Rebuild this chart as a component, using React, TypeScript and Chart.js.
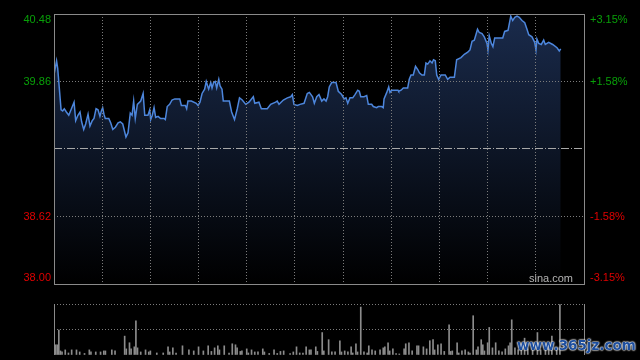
import React, { useEffect, useRef } from 'react';
import { Chart, registerables } from 'chart.js';

Chart.register(...registerables);

// ---- data (minutes from market open, HK session = 330 minutes) ----
const sessionMinutes = 330;
const gridStep = 30;
const prevClose = 39.24;

const minutes = [
  0, 1.6, 2.3, 4.4, 5.4, 6.4, 7.7, 9.2, 10.6, 12.5,
  13.5, 14.9, 16.2, 17.2, 18.5, 19.7, 21.2, 22.4, 23.8, 24.9,
  26.2, 27.4, 28.6, 29.5, 30.3, 31.1, 31.9, 34.1, 35.3, 36.6,
  38.2, 39.9, 41.3, 42.8, 44.8, 46.1, 47.5, 48.6, 49.6, 50.6,
  51.9, 54.0, 55.5, 56.5, 58.5, 59.6, 60.2, 61.2, 62.3, 63.3,
  64.8, 66.4, 68.5, 69.3, 70.5, 72.0, 73.5, 75.2, 78.3, 79.3,
  81.8, 82.6, 83.4, 85.5, 88.6, 89.7, 90.9, 92.2, 93.8, 94.8,
  96.3, 97.6, 98.4, 99.4, 100.4, 101.3, 102.6, 103.4, 104.6, 105.4,
  109.2, 110.6, 112.4, 114.1, 115.5, 117.2, 119.4, 121.4, 124.1, 125.0,
  127.6, 129.1, 132.8, 134.9, 138.0, 139.0, 140.1, 142.8, 145.3, 147.4,
  148.4, 149.4, 151.5, 153.2, 155.7, 157.7, 159.0, 161.0, 162.1, 163.6,
  165.0, 166.7, 168.1, 169.4, 170.4, 171.4, 172.9, 175.6, 177.0, 179.1,
  180.6, 181.8, 182.9, 184.3, 186.0, 187.4, 189.1, 190.1, 191.0, 193.0,
  194.7, 195.7, 197.8, 198.8, 200.9, 201.9, 204.0, 205.0, 205.5, 207.2,
  208.4, 209.2, 210.3, 214.2, 214.6, 216.1, 217.5, 220.2, 221.2, 222.3,
  223.7, 225.1, 226.5, 227.5, 229.1, 230.6, 231.6, 232.7, 234.1, 235.4,
  236.3, 237.4, 238.3, 239.5, 241.0, 243.6, 245.1, 246.6, 249.3, 250.7,
  253.4, 255.5, 257.6, 259.0, 260.3, 261.7, 263.7, 264.8, 266.5, 267.9,
  269.6, 270.2, 271.0, 272.3, 273.3, 274.4, 279.4, 280.6, 282.7, 284.4,
  285.6, 286.9, 288.3, 289.7, 291.4, 293.1, 294.5, 295.6, 297.6, 299.3,
  300.1, 300.7, 301.8, 303.4, 304.9, 305.9, 308.0, 310.5, 313.2, 314.6,
  315.5,
];

const prices = [
  39.92, 40.05, 39.98, 39.60, 39.59, 39.61, 39.58, 39.55, 39.60, 39.67,
  39.50, 39.55, 39.58, 39.49, 39.42, 39.47, 39.56, 39.45, 39.50, 39.52,
  39.61, 39.60, 39.54, 39.59, 39.62, 39.56, 39.52, 39.52, 39.48, 39.42,
  39.44, 39.48, 39.49, 39.47, 39.35, 39.39, 39.57, 39.55, 39.68, 39.52,
  39.65, 39.68, 39.75, 39.55, 39.55, 39.60, 39.51, 39.55, 39.62, 39.53,
  39.54, 39.52, 39.52, 39.51, 39.63, 39.65, 39.69, 39.70, 39.70, 39.64,
  39.64, 39.61, 39.68, 39.68, 39.66, 39.64, 39.67, 39.75, 39.79, 39.86,
  39.79, 39.85, 39.80, 39.85, 39.86, 39.80, 39.88, 39.82, 39.79, 39.68,
  39.68, 39.58, 39.51, 39.61, 39.71, 39.69, 39.65, 39.67, 39.72, 39.66,
  39.67, 39.61, 39.61, 39.65, 39.67, 39.68, 39.65, 39.69, 39.71, 39.72,
  39.74, 39.65, 39.64, 39.65, 39.66, 39.75, 39.76, 39.72, 39.66, 39.72,
  39.74, 39.68, 39.70, 39.68, 39.72, 39.81, 39.85, 39.85, 39.77, 39.74,
  39.70, 39.71, 39.66, 39.71, 39.71, 39.74, 39.78, 39.77, 39.72, 39.72,
  39.73, 39.65, 39.65, 39.63, 39.62, 39.63, 39.63, 39.62, 39.70, 39.76,
  39.81, 39.76, 39.78, 39.78, 39.77, 39.78, 39.80, 39.80, 39.88, 39.92,
  39.92, 40.00, 39.97, 39.94, 39.92, 39.92, 40.03, 40.02, 40.05, 40.03,
  40.06, 40.05, 39.92, 39.88, 39.92, 39.92, 39.88, 39.90, 39.90, 40.06,
  40.08, 40.11, 40.13, 40.15, 40.23, 40.24, 40.34, 40.31, 40.30, 40.27,
  40.21, 40.15, 40.28, 40.21, 40.18, 40.26, 40.26, 40.32, 40.33, 40.46,
  40.42, 40.45, 40.46, 40.45, 40.42, 40.40, 40.34, 40.29, 40.27, 40.22,
  40.15, 40.25, 40.21, 40.20, 40.24, 40.20, 40.22, 40.20, 40.17, 40.14,
  40.16,
];

// relative volume (100 = top of volume panel)
const volMinutes = [
  1, 2, 3, 4, 5, 7, 9, 11, 14, 16, 19, 22, 23, 26, 29, 31, 32, 36, 38, 44,
  45, 47, 48, 50, 51, 52, 54, 57, 59, 60, 64, 68, 71, 72, 74, 76, 80, 84, 87, 90,
  93, 96, 98, 100, 102, 103, 106, 109, 111, 113, 114, 116, 117, 120, 121, 123, 125, 127, 130, 131,
  134, 137, 139, 141, 143, 147, 149, 151, 153, 155, 157, 159, 160, 163, 164, 167, 168, 171, 173, 175,
  178, 179, 181, 183, 185, 186, 188, 189, 191, 193, 195, 196, 198, 200, 203, 205, 206, 208, 209, 211,
  213, 215, 218, 219, 221, 223, 226, 227, 230, 232, 234, 236, 237, 239, 241, 243, 246, 247, 248, 251,
  252, 254, 256, 258, 259, 261, 263, 264, 266, 267, 268, 270, 271, 273, 275, 277, 279, 281, 283, 284,
  285, 287, 289, 291, 293, 295, 298, 301, 303, 306, 308, 310, 313, 315,
];

const volumes = [
  20, 20, 49, 8, 6, 10, 4, 10, 10, 6, 3, 10, 6, 6, 6, 8, 8, 10, 8, 37,
  12, 24, 12, 16, 67, 14, 6, 10, 6, 8, 4, 4, 16, 6, 14, 4, 18, 10, 8, 16,
  8, 18, 7, 14, 18, 10, 18, 4, 22, 20, 14, 7, 8, 12, 4, 10, 6, 6, 12, 6,
  3, 10, 3, 7, 8, 3, 6, 16, 4, 4, 16, 10, 10, 16, 7, 44, 8, 30, 6, 6,
  28, 6, 8, 6, 16, 4, 22, 6, 94, 6, 4, 18, 10, 8, 10, 14, 16, 24, 8, 12,
  3, 2, 12, 22, 24, 8, 18, 18, 16, 12, 28, 30, 10, 20, 22, 7, 59, 7, 8, 24,
  4, 8, 10, 6, 4, 77, 10, 16, 30, 20, 8, 24, 54, 14, 24, 8, 6, 12, 18, 24,
  69, 14, 10, 16, 33, 12, 14, 44, 10, 18, 12, 37, 14, 99,
];

const priceTicks = [40.48, 39.86, 39.24, 38.62, 38.0];
const priceLabels = ['40.48', '39.86', '', '38.62', '38.00'];
const pctLabels = ['+3.15%', '+1.58%', '', '-1.58%', '-3.15%'];
const volTicks = [0, 50, 100];

// ---- styles ----
const GREEN = '#08a008';
const RED = '#e00000';
const GRID = '#7c7c7c';
const FRAME = '#8a8a8a';
const LINE = '#4d86dc';
const FONT = '11px "Liberation Sans", Arial, sans-serif';

const mainPlugin = {
  id: 'mainDecor',
  afterDraw(chart: any) {
    const { ctx, chartArea: a, scales } = chart;
    const ys = scales.y;
    ctx.save();
    ctx.strokeStyle = FRAME;
    ctx.lineWidth = 1;
    ctx.strokeRect(a.left + 0.5, a.top + 0.5, a.right - a.left, a.bottom - a.top);
    ctx.font = FONT;
    ctx.textBaseline = 'middle';
    priceTicks.forEach((v, i) => {
      if (!priceLabels[i]) return;
      let py = ys.getPixelForValue(v);
      py = Math.max(a.top + 6, Math.min(a.bottom - 6, py));
      ctx.fillStyle = v > prevClose ? GREEN : RED;
      ctx.textAlign = 'right';
      ctx.fillText(priceLabels[i], a.left - 3, py);
      ctx.textAlign = 'left';
      ctx.fillText(pctLabels[i], a.right + 6, py);
    });
    ctx.fillStyle = '#b4b4b4';
    ctx.textAlign = 'right';
    ctx.fillText('sina.com', a.right - 11, a.bottom - 5);
    ctx.restore();
  },
};

const volPlugin = {
  id: 'volDecor',
  afterDraw(chart: any) {
    const { ctx, chartArea: a } = chart;
    ctx.save();
    ctx.strokeStyle = FRAME;
    ctx.lineWidth = 1;
    ctx.beginPath();
    ctx.moveTo(a.left + 0.5, a.top);
    ctx.lineTo(a.left + 0.5, a.bottom);
    ctx.moveTo(a.right + 0.5, a.top);
    ctx.lineTo(a.right + 0.5, a.bottom);
    ctx.stroke();
    ctx.restore();
  },
};

export default function App() {
  const mainRef = useRef<HTMLCanvasElement>(null);
  const volRef = useRef<HTMLCanvasElement>(null);

  useEffect(() => {
    document.body.style.margin = '0';
    document.body.style.background = '#000';
    const isPrev = (c: any) => c.tick && Math.abs(c.tick.value - prevClose) < 1e-6;

    const main = new Chart(mainRef.current as HTMLCanvasElement, {
      type: 'line',
      data: {
        datasets: [
          {
            data: minutes.map((m, i) => ({ x: m, y: prices[i] })),
            borderColor: LINE,
            borderWidth: 1.5,
            pointRadius: 0,
            tension: 0,
            fill: 'start',
            backgroundColor: (c: any) => {
              const a = c.chart.chartArea;
              if (!a) return 'rgba(0,0,0,0)';
              const g = c.chart.ctx.createLinearGradient(0, a.top, 0, a.bottom);
              g.addColorStop(0, 'rgb(26,43,76)');
              g.addColorStop(1, 'rgb(0,0,0)');
              return g;
            },
          },
        ],
      },
      options: {
        responsive: false,
        animation: false,
        devicePixelRatio: 1,
        layout: { padding: { left: 54, right: 56, top: 14, bottom: 6 } },
        plugins: { legend: { display: false }, tooltip: { enabled: false } },
        scales: {
          x: {
            type: 'linear',
            min: 0,
            max: sessionMinutes,
            ticks: { display: false, stepSize: gridStep },
            grid: { color: GRID, drawTicks: false, lineWidth: 1, z: 1 },
            border: { display: false, dash: [1, 2] },
          },
          y: {
            type: 'linear',
            min: priceTicks[priceTicks.length - 1],
            max: priceTicks[0],
            afterBuildTicks: (s: any) => {
              s.ticks = priceTicks.map((v) => ({ value: v }));
            },
            ticks: { display: false },
            grid: {
              drawTicks: false,
              lineWidth: 1,
              z: 1,
              color: (c: any) => (isPrev(c) ? '#a8a8a8' : GRID),
            },
            border: {
              display: false,
              dash: (c: any) => (isPrev(c) ? [8, 2, 1, 2] : [1, 2]),
            },
          },
        },
      } as any,
      plugins: [mainPlugin],
    });

    const vol = new Chart(volRef.current as HTMLCanvasElement, {
      type: 'bar',
      data: {
        datasets: [
          {
            data: volMinutes.map((m, i) => ({ x: m, y: volumes[i] })),
            backgroundColor: '#8c8c8c',
            barThickness: 1,
            borderWidth: 0,
          },
        ],
      },
      options: {
        responsive: false,
        animation: false,
        devicePixelRatio: 1,
        layout: { padding: { left: 54, right: 56, top: 14, bottom: 5 } },
        plugins: { legend: { display: false }, tooltip: { enabled: false } },
        scales: {
          x: {
            type: 'linear',
            min: 0,
            max: sessionMinutes,
            offset: false,
            display: false,
          },
          y: {
            type: 'linear',
            min: volTicks[0],
            max: volTicks[volTicks.length - 1],
            afterBuildTicks: (s: any) => {
              s.ticks = volTicks.map((v) => ({ value: v }));
            },
            ticks: { display: false },
            grid: {
              drawTicks: false,
              lineWidth: 1,
              color: (c: any) => (c.tick && c.tick.value === 0 ? 'rgba(0,0,0,0)' : GRID),
            },
            border: { display: false, dash: [1, 2] },
          },
        },
      } as any,
      plugins: [volPlugin],
    });

    return () => {
      main.destroy();
      vol.destroy();
    };
  }, []);

  return (
    <div style={{ position: 'relative', width: 640, height: 360, background: '#000', overflow: 'hidden' }}>
      <canvas ref={mainRef} width={640} height={290} style={{ position: 'absolute', left: 0, top: 0, width: 640, height: 290 }} />
      <canvas ref={volRef} width={640} height={70} style={{ position: 'absolute', left: 0, top: 290, width: 640, height: 70 }} />
      <div
        style={{
          position: 'absolute',
          left: 517,
          top: 336,
          font: 'bold 13.5px "DejaVu Sans", Verdana, sans-serif',
          color: '#1d4e9e',
          textShadow: '0 0 2px #fff, 0 0 2px #fff, 0 0 1px #fff',
          whiteSpace: 'nowrap',
          lineHeight: '18px',
        }}
      >
        www.365jz.com
      </div>
    </div>
  );
}
